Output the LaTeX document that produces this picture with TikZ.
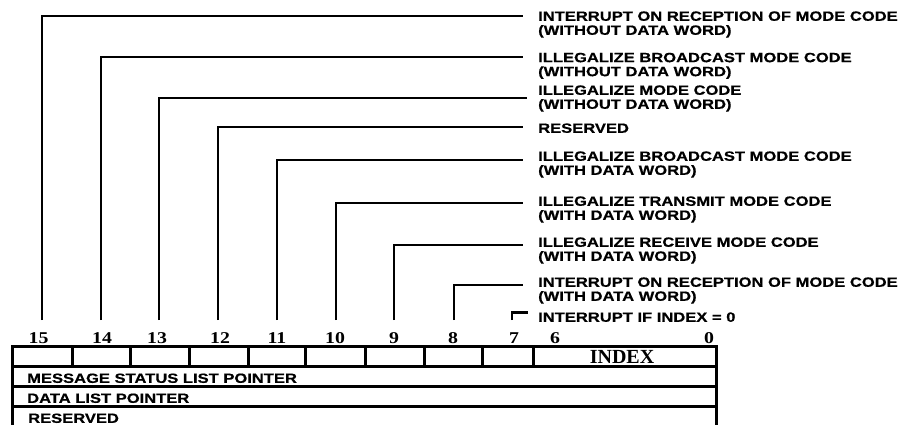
\documentclass[tikz,border=0pt]{standalone}
\usepackage{fontspec}
\newfontfamily\lblfamily[FakeStretch=1.235,BoldFeatures={FakeBold=0.6}]{Liberation Sans}
\newfontfamily\numfamily[FakeStretch=1.2]{Liberation Serif}
\newfontfamily\idxfamily{Liberation Serif}
\newcommand{\lblfont}{\lblfamily\bfseries\fontsize{13.4}{14}\selectfont}
\newcommand{\numfont}{\numfamily\bfseries\fontsize{16.5}{16.5}\selectfont}
\tikzset{leader/.style={line width=2.2pt},
  grid/.style={line width=3pt},
  lbl/.style={anchor=north west,inner sep=0pt,align=left,font=\lblfont},
  bitnum/.style={anchor=base,inner sep=0pt,font=\numfont}}

\begin{document}
\begin{tikzpicture}[x=1pt,y=-1pt]
  \useasboundingbox (0,0) rectangle (901,424);
  \clip (0,0) rectangle (901,424);

  % the word layout
  \draw [grid] (12,430) -- (12,346.7) -- (716,346.7) -- (716,430);
  \draw [grid] (12,366) -- (716,366);
  \draw [grid] (12,386) -- (716,386);
  \draw [grid] (12,406) -- (716,406);

  \draw [grid] (72,346.7) -- (72,366);
  \draw [grid] (130,346.7) -- (130,366);
  \draw [grid] (189,346.7) -- (189,366);
  \draw [grid] (248,346.7) -- (248,366);
  \draw [grid] (305,346.7) -- (305,366);
  \draw [grid] (365,346.7) -- (365,366);
  \draw [grid] (424,346.7) -- (424,366);
  \draw [grid] (482,346.7) -- (482,366);
  \draw [grid] (533,346.7) -- (533,366);

  \node (index) [anchor=base,inner sep=0pt,font=\idxfamily\bfseries\fontsize{20}{20}\selectfont] at (622,363.3) {INDEX};
  \node (msl) [lbl] at (27,373.3) {MESSAGE STATUS LIST POINTER};
  \node (dlp) [lbl] at (27,393.3) {DATA LIST POINTER};
  \node (rsv) [lbl] at (28,413.3) {RESERVED};

  % bit numbers
  \node (n15) [bitnum] at (38.5,343) {15};
  \node (n14) [bitnum] at (102,343) {14};
  \node (n13) [bitnum] at (157,343) {13};
  \node (n12) [bitnum] at (220,343) {12};
  \node (n11) [bitnum] at (277,343) {11};
  \node (n10) [bitnum] at (335,343) {10};
  \node (n9) [bitnum] at (394,343) {9};
  \node (n8) [bitnum] at (453,343) {8};
  \node (n7) [bitnum] at (514,343) {7};
  \node (n6) [bitnum] at (555,343) {6};
  \node (n0) [bitnum] at (709,343) {0};

  % bit descriptions
  \node (l15) [lbl] at (538,11.2) {INTERRUPT ON RECEPTION OF MODE CODE\\(WITHOUT DATA WORD)};
  \node (l14) [lbl] at (538,52.6) {ILLEGALIZE BROADCAST MODE CODE\\(WITHOUT DATA WORD)};
  \node (l13) [lbl] at (538,85.2) {ILLEGALIZE MODE CODE\\(WITHOUT DATA WORD)};
  \node (l12) [lbl] at (538,123.2) {RESERVED};
  \node (l11) [lbl] at (538,151.2) {ILLEGALIZE BROADCAST MODE CODE\\(WITH DATA WORD)};
  \node (l10) [lbl] at (538,196.2) {ILLEGALIZE TRANSMIT MODE CODE\\(WITH DATA WORD)};
  \node (l9) [lbl] at (538,237.2) {ILLEGALIZE RECEIVE MODE CODE\\(WITH DATA WORD)};
  \node (l8) [lbl] at (538,277.2) {INTERRUPT ON RECEPTION OF MODE CODE\\(WITH DATA WORD)};
  \node (l7) [lbl] at (538,312.2) {INTERRUPT IF INDEX = 0};

  % leader lines
  \coordinate (b15) at (42,320);  \coordinate (t15) at (523,16);
  \coordinate (b14) at (101,320); \coordinate (t14) at (523,57);
  \coordinate (b13) at (159,320); \coordinate (t13) at (527,98);
  \coordinate (b12) at (218,320); \coordinate (t12) at (523,127);
  \coordinate (b11) at (277,320); \coordinate (t11) at (523,160);
  \coordinate (b10) at (336,320); \coordinate (t10) at (523,203);
  \coordinate (b9) at (394,320);  \coordinate (t9) at (523,245);
  \coordinate (b8) at (454,320);  \coordinate (t8) at (523,285);
  \coordinate (b7) at (512,320);  \coordinate (t7) at (528,312.5);

  \draw [leader] (b15) |- (t15);
  \draw [leader] (b14) |- (t14);
  \draw [leader] (b13) |- (t13);
  \draw [leader] (b12) |- (t12);
  \draw [leader] (b11) |- (t11);
  \draw [leader] (b10) |- (t10);
  \draw [leader] (b9) |- (t9);
  \draw [leader] (b8) |- (t8);
  \draw [leader] (b7) |- (t7);

\end{tikzpicture}
\end{document}
